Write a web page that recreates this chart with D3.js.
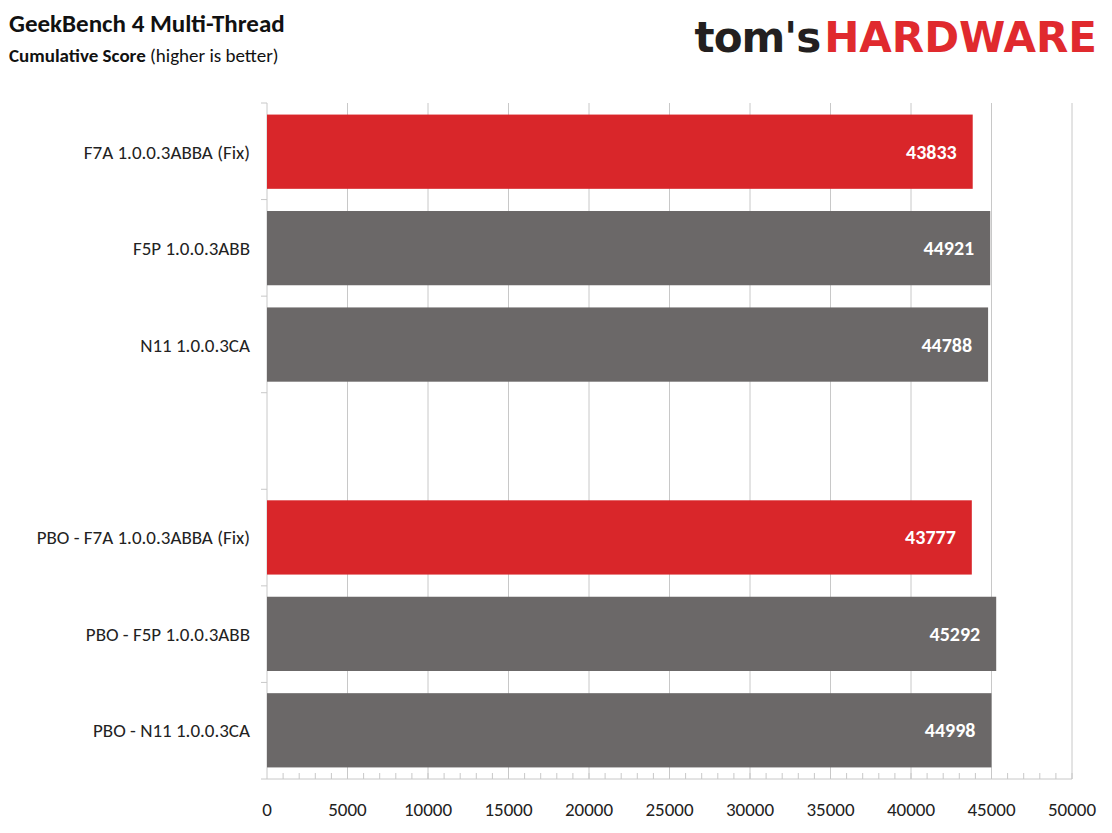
<!DOCTYPE html>
<html><head><meta charset="utf-8">
<script src="https://cdn.jsdelivr.net/npm/d3@7"></script>
<style>body{margin:0;background:#fff}</style>
</head><body>
<svg id="chart" width="1112" height="833"></svg>
<script>
// Chart data
const categories = ["F7A 1.0.0.3ABBA (Fix)", "F5P 1.0.0.3ABB", "N11 1.0.0.3CA", "",
  "PBO - F7A 1.0.0.3ABBA (Fix)", "PBO - F5P 1.0.0.3ABB", "PBO - N11 1.0.0.3CA"];
const scores = [43833, 44921, 44788, null, 43777, 45292, 44998];
const highlight = [true, false, false, false, true, false, false];
const xTicks = [0, 5000, 10000, 15000, 20000, 25000, 30000, 35000, 40000, 45000, 50000];

const svg = d3.select("#chart");
const font = "Calibri, Carlito, 'Liberation Sans', sans-serif";

const x = d3.scaleLinear().domain([0, 50000]).range([267, 1072]);
const y = d3.scaleBand().domain(d3.range(categories.length)).range([103, 779]).paddingInner(0.23).paddingOuter(0.12);
const yb = d3.scaleBand().domain(d3.range(categories.length)).range([103, 779]);

// Gridlines
svg.append("g").selectAll("line").data(xTicks.slice(1)).enter().append("line")
  .attr("x1", d => x(d)).attr("x2", d => x(d)).attr("y1", 103).attr("y2", 779)
  .attr("stroke", "#c8c8c8").attr("stroke-width", 1);

// Minor ticks
svg.append("g").selectAll("line").data(d3.range(1000, 50001, 1000)).enter().append("line")
  .attr("x1", d => x(d)).attr("x2", d => x(d)).attr("y1", 773).attr("y2", 779)
  .attr("stroke", "#c8c8c8");

// Axes lines
svg.append("line").attr("x1", 267).attr("x2", 1072).attr("y1", 779).attr("y2", 779).attr("stroke", "#c8c8c8");
svg.append("line").attr("x1", 267).attr("x2", 267).attr("y1", 103).attr("y2", 779).attr("stroke", "#c8c8c8");
svg.append("g").selectAll("line").data(d3.range(categories.length + 1)).enter().append("line")
  .attr("x1", 261).attr("x2", 267)
  .attr("y1", i => i < categories.length ? yb(i) : 779).attr("y2", i => i < categories.length ? yb(i) : 779)
  .attr("stroke", "#c8c8c8");

// Bars
const rows = categories.map((c, i) => ({c, v: scores[i], h: highlight[i], i})).filter(d => d.v != null);
svg.append("g").selectAll("rect").data(rows).enter().append("rect")
  .attr("x", x(0)).attr("y", d => y(d.i)).attr("width", d => x(d.v) - x(0)).attr("height", y.bandwidth())
  .attr("fill", d => d.h ? "#d9262a" : "#6b6868");

svg.append("g").selectAll("text").data(rows).enter().append("text")
  .attr("x", d => x(d.v) - 16).attr("y", d => y(d.i) + y.bandwidth() / 2 + 7)
  .attr("text-anchor", "end").attr("fill", "#fff").attr("font-weight", "bold")
  .attr("font-family", font).attr("font-size", 20).text(d => d.v);

// Category labels
svg.append("g").selectAll("text").data(rows).enter().append("text")
  .attr("x", 250).attr("y", d => y(d.i) + y.bandwidth() / 2 + 7)
  .attr("text-anchor", "end").attr("fill", "#222").attr("font-family", font).attr("font-size", 19)
  .text(d => d.c);

// X tick labels
svg.append("g").selectAll("text").data(xTicks).enter().append("text")
  .attr("x", d => x(d)).attr("y", 816).attr("text-anchor", "middle")
  .attr("fill", "#222").attr("font-family", font).attr("font-size", 19).text(d => d);

// Titles
svg.append("text").attr("x", 9).attr("y", 32).attr("font-family", font).attr("font-weight", "bold")
  .attr("font-size", 25).attr("fill", "#111").text("GeekBench 4 Multi-Thread");
const sub = svg.append("text").attr("x", 9).attr("y", 62).attr("font-family", font).attr("font-size", 19).attr("fill", "#111");
sub.append("tspan").attr("font-weight", "bold").text("Cumulative Score ");
sub.append("tspan").text("(higher is better)");

// Logo
const logo = svg.append("text").attr("x", 1097).attr("y", 52).attr("text-anchor", "end")
  .attr("font-family", "'DejaVu Sans', sans-serif").attr("font-weight", "bold").attr("font-size", 42);
logo.append("tspan").attr("fill", "#231f20").attr("letter-spacing", -1).text("tom's");
logo.append("tspan").attr("fill", "#e02a2e").attr("dx", 4).text("HARDWARE");
</script>
</body></html>
